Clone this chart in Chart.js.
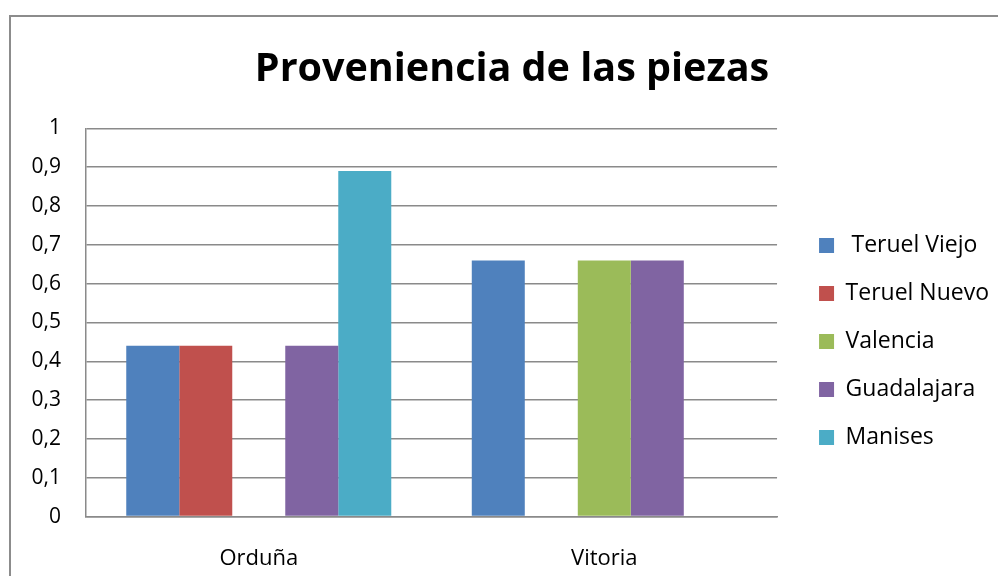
<!DOCTYPE html>
<html>
<head>
<meta charset="utf-8">
<script src="https://cdn.jsdelivr.net/npm/chart.js@4.4.1/dist/chart.umd.min.js"></script>
<style>
  html, body { margin: 0; padding: 0; background: #fff; overflow: hidden; }
  #wrap { position: absolute; left: 0; top: 0; width: 1024px; height: 576px; }
</style>
</head>
<body>
<div id="wrap"><canvas id="chart"></canvas></div>
<script>
const categories = ["Orduña", "Vitoria"];
const seriesNames = [" Teruel Viejo", "Teruel Nuevo", "Valencia", "Guadalajara", "Manises"];
const teruelViejo = [0.44, 0.66];
const teruelNuevo = [0.44, 0];
const valencia = [0, 0.66];
const guadalajara = [0.44, 0.66];
const manises = [0.89, 0];
const yTicks = [0, 0.1, 0.2, 0.3, 0.4, 0.5, 0.6, 0.7, 0.8, 0.9, 1];

const colors = ["#4F81BD", "#C0504D", "#9BBB59", "#8064A2", "#4BACC6"];
const seriesValues = [teruelViejo, teruelNuevo, valencia, guadalajara, manises];
const FONT = "'Open Sans', sans-serif";

// grey frame round the chart, like the office chart border
const framePlugin = {
  id: "frame",
  beforeDraw(chart) {
    const c = chart.ctx;
    c.save();
    c.strokeStyle = "#8c8c8c";
    c.lineWidth = 2;
    c.beginPath();
    c.moveTo(10, chart.height);
    c.lineTo(10, 16);
    c.lineTo(chart.width, 16);
    c.stroke();
    c.restore();
  }
};

// empty spacer axis, only used to reserve room
const spacer = (w, weight) => ({
  position: "right",
  display: true,
  weight: weight,
  grid: { display: false, drawTicks: false },
  border: { display: false },
  ticks: { display: false },
  afterFit(scale) { scale.width = w; }
});

const ctx = document.getElementById("chart");
new Chart(ctx, {
  type: "bar",
  data: {
    labels: categories,
    datasets: seriesNames.map((name, i) => ({
      label: name,
      data: seriesValues[i],
      backgroundColor: colors[i],
      borderWidth: 0,
      categoryPercentage: 0.767,
      barPercentage: 1
    }))
  },
  options: {
    responsive: true,
    maintainAspectRatio: false,
    animation: false,
    layout: { padding: { left: 0, right: 0, top: 0, bottom: -25 } },
    plugins: {
      title: {
        display: true,
        text: "Proveniencia de las piezas",
        color: "#000",
        font: { family: FONT, size: 39.5, weight: "bold" },
        padding: { top: 46, bottom: 35 }
      },
      legend: {
        position: "right",
        maxWidth: 400,
        title: { display: true, text: "", font: { size: 10 }, padding: { top: 70, bottom: 0 } },
        labels: {
          color: "#000",
          font: { family: FONT, size: 23 },
          boxWidth: 15,
          boxHeight: 15,
          padding: 25
        }
      },
      tooltip: { enabled: false }
    },
    scales: {
      x: {
        grid: { display: false, drawTicks: false },
        border: { display: true, color: "#8a8a8a", width: 1.5 },
        ticks: { color: "#000", font: { family: FONT, size: 22 }, padding: 29 }
      },
      y: {
        min: 0,
        max: 1,
        afterBuildTicks(scale) {
          scale.ticks = yTicks.map(v => ({ value: v }));
        },
        afterFit(scale) { scale.width = 86; },
        grid: { color: "#8a8a8a", lineWidth: 1.5, drawTicks: false },
        border: { display: true, color: "#8a8a8a", width: 1.5 },
        ticks: {
          color: "#000",
          font: { family: FONT, size: 21 },
          padding: 25,
          callback: v => String(Math.round(v * 10) / 10).replace(".", ",")
        }
      },
      gap: spacer(17, 0),
      edge: spacer(25, 2000)
    }
  },
  plugins: [framePlugin]
});
</script>
</body>
</html>
